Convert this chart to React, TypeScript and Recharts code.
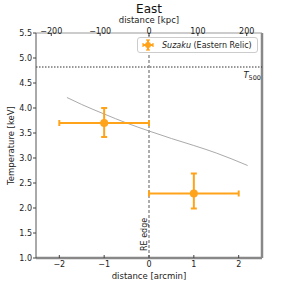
import { ComposedChart, XAxis, YAxis, Line, Scatter, ErrorBar, ReferenceLine } from 'recharts'

// Suzaku measurements (Eastern Relic)
const pointX = [-1, 1]
const pointT = [3.7, 2.29]
const pointXErr = [[1, 1], [1, 1]]
const pointTErr = [[0.28, 0.3], [0.3, 0.4]]

// model profile (grey curve)
const curveX = [-1.83, -1.5, -1, -0.5, 0, 0.5, 1, 1.5, 2.2]
const curveT = [4.21, 4.07, 3.88, 3.7, 3.54, 3.39, 3.25, 3.1, 2.85]

const t500 = 4.82
const yTicks = [1.0, 1.5, 2.0, 2.5, 3.0, 3.5, 4.0, 4.5, 5.0, 5.5]
const arcminTicks = [-2, -1, 0, 1, 2]
const kpcTicks = [-200, -100, 0, 100, 200]
const kpcPerArcmin = 91.8
const xMax = 2.52

const points = pointX.map((x, i) => ({ x, t: pointT[i], xe: pointXErr[i], te: pointTErr[i] }))
const curve = curveX.map((x, i) => ({ x, t: curveT[i] }))
// invisible helper so the kpc axis gets its ticks
const kpcAnchor = kpcTicks.map((k) => ({ x: k, t: 1 }))

const ORANGE = '#ffa31a'
const FONT = 'DejaVu Sans'

const minus = (v: number) => (v < 0 ? '\u2212' + Math.abs(v) : String(v))

export default function App() {
  return (
    <div style={{ position: 'absolute', left: 0, top: 0, width: 291, height: 291, background: '#fff', fontFamily: FONT }}>
      <ComposedChart width={291} height={291} margin={{ top: 0, right: 29, left: 0, bottom: 0 }}>
        <XAxis
          xAxisId="bottom"
          dataKey="x"
          type="number"
          domain={[-xMax, xMax]}
          allowDataOverflow
          ticks={arcminTicks}
          tickFormatter={minus}
          height={33}
          tickSize={-3}
          tickMargin={6}
          tick={{ fontSize: 8, fill: '#222', fontFamily: FONT }}
          tickLine={{ stroke: '#444' }}
          axisLine={{ stroke: '#888', strokeWidth: 2.5 }}
          label={(p: any) => (
            <text x={p.viewBox.x + p.viewBox.width / 2} y={p.viewBox.y + 21} textAnchor="middle" fontSize={8.5} fontFamily={FONT} fill="#222">
              distance [arcmin]
            </text>
          )}
        />
        <XAxis
          xAxisId="top"
          dataKey="x"
          orientation="top"
          type="number"
          domain={[-xMax * kpcPerArcmin, xMax * kpcPerArcmin]}
          allowDataOverflow
          ticks={kpcTicks}
          tickFormatter={minus}
          height={33}
          tickSize={-3}
          tickMargin={2}
          tick={{ fontSize: 8, fill: '#222', fontFamily: FONT }}
          tickLine={{ stroke: '#444' }}
          axisLine={{ stroke: '#999', strokeWidth: 1 }}
          label={(p: any) => (
            <g>
              <text x={p.viewBox.x + p.viewBox.width / 2} y={13} textAnchor="middle" fontSize={12} fontFamily={FONT} fill="#111">
                East
              </text>
              <text x={p.viewBox.x + p.viewBox.width / 2} y={23} textAnchor="middle" fontSize={8.5} fontFamily={FONT} fill="#222">
                distance [kpc]
              </text>
            </g>
          )}
        />
        <YAxis
          dataKey="t"
          type="number"
          domain={[1, 5.5]}
          allowDataOverflow
          ticks={yTicks}
          tickFormatter={(v: number) => v.toFixed(1)}
          width={36}
          tickSize={3}
          tickMargin={1}
          tick={{ fontSize: 8, fill: '#222', fontFamily: FONT }}
          tickLine={{ stroke: '#444' }}
          axisLine={{ stroke: '#555', strokeWidth: 1 }}
          label={(p: any) => {
            const cx = 14
            const cy = p.viewBox.y + p.viewBox.height / 2
            return (
              <text x={cx} y={cy} transform={`rotate(-90, ${cx}, ${cy})`} textAnchor="middle" fontSize={8.5} fontFamily={FONT} fill="#222">
                Temperature [keV]
              </text>
            )
          }}
        />
        <ReferenceLine xAxisId="bottom" x={xMax} stroke="#888" strokeWidth={2.5} />
        <ReferenceLine
          xAxisId="bottom"
          y={t500}
          stroke="#333"
          strokeWidth={1}
          strokeDasharray="1.5 1.5"
          label={(p: any) => (
            <text x={p.viewBox.x + p.viewBox.width - 1} y={p.viewBox.y + 11} textAnchor="end" fontSize={8.5} fontFamily={FONT} fill="#222">
              <tspan fontStyle="italic">T</tspan>
              <tspan fontSize={6.5} dy={2}>500</tspan>
            </text>
          )}
        />
        <ReferenceLine
          xAxisId="bottom"
          x={0}
          stroke="#777"
          strokeWidth={1.2}
          strokeDasharray="3 2"
          label={(p: any) => {
            const lx = p.viewBox.x - 2
            const ly = p.viewBox.y + p.viewBox.height - 7
            return (
              <text x={lx} y={ly} transform={`rotate(-90, ${lx}, ${ly})`} textAnchor="start" fontSize={8} fontFamily={FONT} fill="#222">
                RE edge
              </text>
            )
          }}
        />
        <Scatter
          xAxisId="top"
          data={kpcAnchor}
          dataKey="t"
          isAnimationActive={false}
          shape={() => <g />}
        />
        <Line
          xAxisId="bottom"
          data={curve}
          dataKey="t"
          type="monotone"
          stroke="#aaa"
          strokeWidth={1}
          dot={false}
          isAnimationActive={false}
        />
        <Scatter
          xAxisId="bottom"
          data={points}
          dataKey="t"
          fill={ORANGE}
          isAnimationActive={false}
          shape={(p: any) => <circle cx={p.cx} cy={p.cy} r={4} fill={ORANGE} />}
        >
          <ErrorBar dataKey="xe" direction="x" stroke={ORANGE} strokeWidth={2} width={3} isAnimationActive={false} />
          <ErrorBar dataKey="te" direction="y" stroke={ORANGE} strokeWidth={2} width={3} isAnimationActive={false} />
        </Scatter>
      </ComposedChart>
      <div
        style={{
          position: 'absolute',
          left: 137,
          top: 37,
          width: 119,
          height: 14,
          border: '1px solid #ccc',
          borderRadius: 3,
          background: '#fff',
          display: 'flex',
          alignItems: 'center',
          fontSize: 8,
          color: '#222',
          whiteSpace: 'nowrap',
        }}
      >
        <svg width={24} height={14} style={{ flex: 'none' }}>
          <line x1={5} y1={7} x2={15} y2={7} stroke={ORANGE} strokeWidth={2} />
          <line x1={10} y1={2} x2={10} y2={12} stroke={ORANGE} strokeWidth={2} />
          <line x1={5} y1={5} x2={5} y2={9} stroke={ORANGE} strokeWidth={1.2} />
          <line x1={15} y1={5} x2={15} y2={9} stroke={ORANGE} strokeWidth={1.2} />
          <line x1={8} y1={2} x2={12} y2={2} stroke={ORANGE} strokeWidth={1.2} />
          <line x1={8} y1={12} x2={12} y2={12} stroke={ORANGE} strokeWidth={1.2} />
          <circle cx={10} cy={7} r={3} fill={ORANGE} />
        </svg>
        <span>
          <i>Suzaku</i> (Eastern Relic)
        </span>
      </div>
    </div>
  )
}
